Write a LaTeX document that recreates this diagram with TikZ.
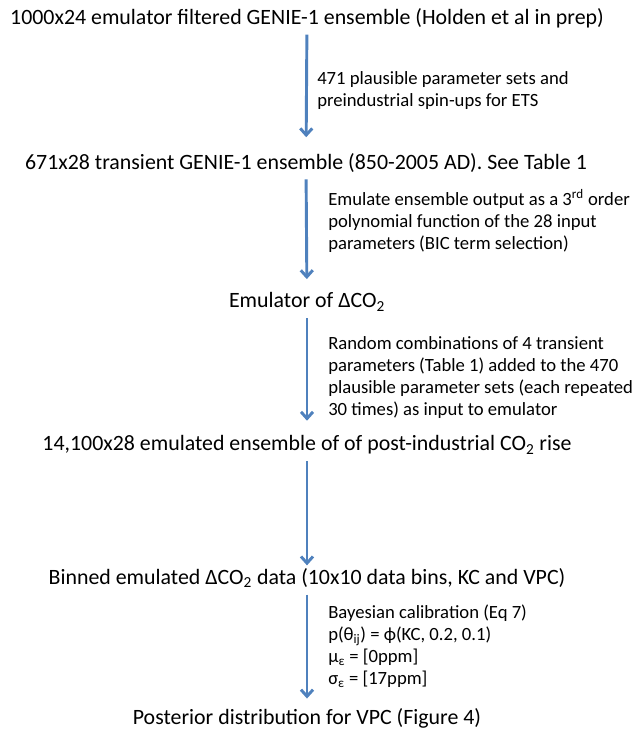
\documentclass[tikz,border=0pt]{standalone}
\usepackage{fontspec}
\setmainfont{Carlito}
\usetikzlibrary{arrows.meta}
\definecolor{flowBlue}{HTML}{4F81BD}
\tikzset{
  >={Straight Barb[length=5pt, width=9pt]},
  stage/.style={font=\fontsize{16.4}{19}\selectfont, inner sep=0pt},
  note/.style={anchor=west, align=left, font=\fontsize{14}{16.5}\selectfont, inner sep=0pt},
  flow/.style={->, line width=2.2pt, draw=flowBlue, shorten <=5pt},
}

\begin{document}
\begin{tikzpicture}[x=0.75pt, y=-0.75pt]
  \useasboundingbox (0,0) rectangle (637,729);

  % ---- ensemble stages -----------------------------------------------------
  \node[stage] (filt)   at (307,18)  {1000x24 emulator filtered GENIE-1 ensemble (Holden et al in prep)};
  \node[stage] (trans)  at (306,163) {671x28 transient GENIE-1 ensemble (850-2005 AD). See Table 1};
  \node[stage] (emu)    at (307,302) {Emulator of ΔCO\textsubscript{2}};
  \node[stage] (emens)  at (307,445) {14,100x28 emulated ensemble of of post-industrial CO\textsubscript{2} rise};
  \node[stage] (binned) at (307,578) {Binned emulated ΔCO\textsubscript{2} data (10x10 data bins, KC and VPC)};
  \node[stage] (post)   at (307,718) {Posterior distribution for VPC (Figure 4)};

  % ---- arrow notes ---------------------------------------------------------
  \node[note] (n1) at (317,91)  {471 plausible parameter sets and\\preindustrial spin-ups for ETS};
  \node[note] (n2) at (328,221) {Emulate ensemble output as a 3\textsuperscript{rd} order\\polynomial function of the 28 input\\parameters (BIC term selection)};
  \node[note] (n3) at (328,378) {Random combinations of 4 transient\\parameters (Table 1) added to the 470\\plausible parameter sets (each repeated\\30 times) as input to emulator};
  \node[note] (n5) at (328,646) {Bayesian calibration (Eq 7)\\p(θ\textsubscript{ij}) = ϕ(KC, 0.2, 0.1)\\μ\textsubscript{ε} = [0ppm]\\σ\textsubscript{ε} = [17ppm]};

  \draw[flow, shorten >=12pt] (filt)   -- (trans);
  \draw[flow, shorten >=10pt] (trans)  -- (emu);
  \draw[flow, shorten >=11pt] (emu)    -- (emens);
  \draw[flow, shorten >=2pt]  (emens)  -- (binned);
  \draw[flow, shorten >=7pt]  (binned) -- (post);

\end{tikzpicture}
\end{document}
